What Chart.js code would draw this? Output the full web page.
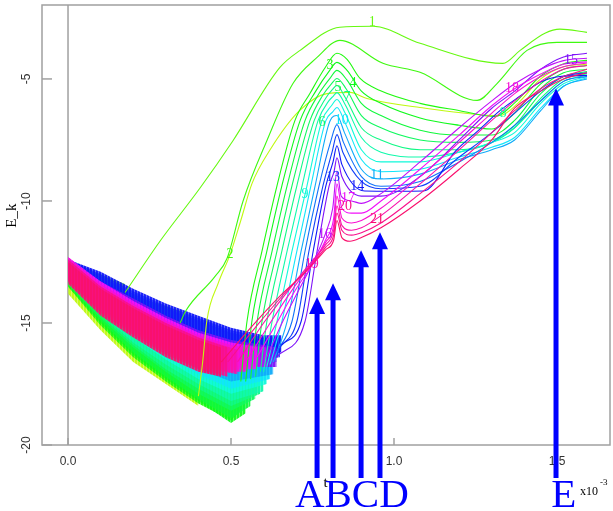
<!DOCTYPE html>
<html>
<head>
<meta charset="utf-8">
<script src="https://cdn.jsdelivr.net/npm/chart.js@4.4.0/dist/chart.umd.min.js"></script>
<style>
html, body { margin: 0; padding: 0; background: #fff; }
#chart { display: block; }
</style>
</head>
<body>
<canvas id="chart" width="613" height="511"></canvas>
<script>
// --- axis ticks ---
const tickT = [0, 0.5, 1.0, 1.5];
const tickTLabels = ['0.0', '0.5', '1.0', '1.5'];
const tickE = [-20, -15, -10, -5];
const tickELabels = ['-20', '-15', '-10', '-5'];

// --- noisy start of each run: [t, upper, lower] ---
const bandL  = [[0,-13.3,-13.8],[0.1,-14.8,-15.3],[0.2,-16.0,-16.6],[0.3,-16.9,-17.5],[0.4,-17.6,-18.4]];
const band1  = [[0,-12.6,-13.2],[0.1,-13.0,-13.8],[0.175,-13.4,-14.1]];
const band2  = [[0,-12.7,-13.3],[0.1,-13.3,-14.2],[0.2,-13.9,-14.9],[0.3,-14.3,-15.4],[0.344,-14.5,-15.6]];
const band3  = [[0,-12.9,-13.5],[0.1,-14.2,-15.1],[0.2,-15.2,-16.4],[0.3,-16.0,-17.4],[0.4,-16.6,-18.3],[0.5,-16.9,-19.0],[0.53,-16.6,-18.6]];
const band4  = [[0,-12.9,-13.5],[0.1,-14.1,-15.0],[0.2,-15.1,-16.3],[0.3,-15.9,-17.3],[0.4,-16.5,-18.2],[0.5,-16.8,-19.1],[0.545,-16.5,-18.7]];
const band5  = [[0,-12.8,-13.4],[0.1,-14.0,-14.9],[0.2,-15.0,-16.2],[0.3,-15.8,-17.2],[0.4,-16.4,-18.1],[0.5,-16.7,-18.9],[0.56,-16.4,-18.4]];
const band6  = [[0,-12.8,-13.4],[0.1,-13.9,-14.8],[0.2,-14.9,-16.0],[0.3,-15.7,-17.0],[0.4,-16.3,-17.9],[0.5,-16.6,-18.6],[0.575,-16.3,-18.1]];
const band7  = [[0,-12.8,-13.4],[0.1,-13.8,-14.7],[0.2,-14.8,-15.9],[0.3,-15.6,-16.9],[0.4,-16.2,-17.7],[0.5,-16.5,-18.4],[0.59,-16.2,-17.9]];
const band8  = [[0,-12.7,-13.3],[0.1,-13.7,-14.6],[0.2,-14.7,-15.8],[0.3,-15.5,-16.7],[0.4,-16.1,-17.5],[0.5,-16.4,-18.2],[0.6,-16.2,-17.8]];
const band9  = [[0,-12.7,-13.3],[0.1,-13.6,-14.5],[0.2,-14.5,-15.6],[0.3,-15.3,-16.5],[0.4,-15.9,-17.3],[0.5,-16.3,-17.9],[0.61,-16.1,-17.5]];
const band10 = [[0,-12.6,-13.2],[0.1,-13.5,-14.4],[0.2,-14.4,-15.5],[0.3,-15.2,-16.3],[0.4,-15.8,-17.1],[0.5,-16.2,-17.7],[0.62,-16.0,-17.3]];
const band11 = [[0,-12.6,-13.2],[0.1,-13.4,-14.3],[0.2,-14.3,-15.3],[0.3,-15.0,-16.1],[0.4,-15.6,-16.9],[0.5,-16.0,-17.4],[0.63,-16.0,-17.1]];
const band12 = [[0,-12.5,-13.1],[0.1,-13.1,-14.0],[0.2,-13.8,-14.8],[0.3,-14.4,-15.5],[0.4,-14.9,-16.1],[0.5,-15.4,-16.5],[0.6,-15.7,-16.7],[0.64,-15.7,-16.6]];
const band13 = [[0,-12.4,-13.0],[0.1,-13.0,-13.9],[0.2,-13.7,-14.6],[0.3,-14.3,-15.3],[0.4,-14.8,-15.9],[0.5,-15.3,-16.3],[0.6,-15.6,-16.5],[0.65,-15.6,-16.4]];
const band14 = [[0,-12.4,-13.0],[0.1,-12.9,-13.8],[0.2,-13.6,-14.5],[0.3,-14.2,-15.2],[0.4,-14.7,-15.8],[0.5,-15.2,-16.2],[0.6,-15.5,-16.4],[0.655,-15.5,-16.2]];
const band15 = [[0,-12.5,-13.1],[0.1,-13.3,-14.1],[0.2,-14.0,-14.9],[0.3,-14.7,-15.6],[0.4,-15.3,-16.2],[0.5,-15.7,-16.6],[0.6,-15.9,-16.8],[0.64,-16.0,-16.8]];
const band16 = [[0,-12.4,-13.1],[0.1,-13.3,-14.2],[0.2,-14.1,-15.1],[0.3,-14.8,-15.9],[0.4,-15.4,-16.5],[0.5,-15.8,-16.8],[0.61,-16.0,-16.8]];
const band17 = [[0,-12.3,-13.1],[0.1,-13.3,-14.3],[0.2,-14.1,-15.2],[0.3,-14.8,-16.0],[0.4,-15.4,-16.6],[0.5,-15.8,-16.9],[0.58,-16.0,-16.9]];
const band18 = [[0,-12.3,-13.2],[0.1,-13.4,-14.4],[0.2,-14.2,-15.3],[0.3,-14.9,-16.1],[0.4,-15.5,-16.7],[0.5,-15.9,-17.0],[0.55,-16.0,-17.0]];
const band19 = [[0,-12.4,-13.3],[0.1,-13.5,-14.5],[0.2,-14.3,-15.4],[0.3,-15.0,-16.2],[0.4,-15.6,-16.8],[0.52,-16.1,-17.1]];
const band20 = [[0,-12.4,-13.3],[0.1,-13.5,-14.6],[0.2,-14.3,-15.5],[0.3,-15.0,-16.3],[0.4,-15.6,-16.9],[0.49,-16.0,-17.2]];
const band21 = [[0,-12.5,-13.4],[0.1,-13.6,-14.7],[0.2,-14.4,-15.6],[0.3,-15.1,-16.4],[0.4,-15.7,-17.0],[0.47,-16.0,-17.2]];

// --- smooth part of each run: [t, E_k] ---
const lineL  = [[0.4,-18.0],[0.413,-16.6],[0.426,-14.9],[0.46,-13.4],[0.497,-12.2],[0.53,-10.8],[0.564,-9.3],[0.62,-7.9],[0.71,-6.3],[0.794,-5.6],[0.865,-5.55],[0.917,-5.8],[1.08,-6.17],[1.325,-6.5],[1.38,-6.0],[1.45,-5.0],[1.52,-4.5],[1.592,-4.4]];
const line1  = [[0.175,-13.75],[0.282,-11.65],[0.405,-9.47],[0.506,-7.53],[0.65,-4.53],[0.712,-3.83],[0.834,-2.88],[0.936,-2.84],[1.08,-3.54],[1.334,-4.36],[1.387,-3.83],[1.463,-3.13],[1.509,-2.96],[1.592,-3.09]];
const line2  = [[0.344,-15.0],[0.36,-14.53],[0.451,-13.09],[0.488,-12.35],[0.537,-10.0],[0.61,-7.53],[0.69,-5.19],[0.764,-4.12],[0.834,-3.42],[0.966,-4.36],[1.08,-4.73],[1.255,-5.88],[1.316,-5.19],[1.408,-3.83],[1.5,-3.5],[1.592,-3.5]];
const line3  = [[0.53,-17.4],[0.549,-14.94],[0.595,-12.06],[0.641,-9.38],[0.696,-6.71],[0.742,-5.6],[0.788,-4.55],[0.825,-3.95],[0.856,-4.2],[0.896,-4.98],[0.957,-5.47],[1.08,-6.0],[1.202,-6.3],[1.31,-6.54],[1.371,-5.97],[1.448,-4.9],[1.525,-4.36],[1.592,-4.24]];
const line4  = [[0.545,-17.4],[0.564,-14.94],[0.61,-12.06],[0.656,-9.38],[0.712,-6.71],[0.76,-5.5],[0.8,-4.7],[0.825,-4.32],[0.856,-4.65],[0.9,-5.5],[0.96,-6.0],[1.08,-6.6],[1.2,-6.9],[1.3,-7.05],[1.37,-6.4],[1.45,-5.2],[1.52,-4.6],[1.592,-4.45]];
const line5  = [[0.56,-17.3],[0.58,-14.94],[0.626,-12.06],[0.672,-9.38],[0.727,-6.71],[0.77,-5.6],[0.805,-4.95],[0.825,-4.65],[0.856,-5.05],[0.9,-6.0],[0.96,-6.5],[1.08,-7.1],[1.2,-7.3],[1.3,-7.3],[1.37,-6.7],[1.45,-5.4],[1.52,-4.75],[1.592,-4.6]];
const line6  = [[0.575,-17.2],[0.595,-14.94],[0.641,-12.06],[0.687,-9.38],[0.742,-6.71],[0.78,-5.7],[0.808,-5.2],[0.825,-4.98],[0.853,-5.4],[0.9,-6.5],[0.96,-7.0],[1.08,-7.5],[1.2,-7.6],[1.3,-7.5],[1.37,-6.9],[1.45,-5.6],[1.52,-4.9],[1.592,-4.7]];
const line7  = [[0.59,-17.0],[0.61,-14.94],[0.656,-12.06],[0.702,-9.38],[0.755,-6.71],[0.79,-5.8],[0.81,-5.45],[0.825,-5.27],[0.85,-5.75],[0.9,-7.0],[0.96,-7.5],[1.08,-7.9],[1.2,-7.9],[1.3,-7.6],[1.37,-7.0],[1.45,-5.8],[1.52,-5.0],[1.592,-4.8]];
const line8  = [[0.6,-17.0],[0.626,-14.94],[0.672,-12.06],[0.718,-9.38],[0.767,-6.71],[0.8,-5.9],[0.814,-5.7],[0.825,-5.56],[0.85,-6.05],[0.9,-7.4],[0.96,-8.0],[1.08,-8.2],[1.2,-8.0],[1.3,-7.6],[1.37,-7.0],[1.45,-5.9],[1.52,-5.1],[1.592,-4.85]];
const line9  = [[0.61,-16.8],[0.641,-14.94],[0.687,-12.06],[0.733,-9.38],[0.779,-6.71],[0.808,-6.1],[0.825,-5.84],[0.85,-6.4],[0.9,-7.9],[0.96,-8.4],[1.08,-8.4],[1.2,-8.0],[1.3,-7.6],[1.37,-7.2],[1.45,-6.0],[1.52,-5.2],[1.592,-4.9]];
const line10 = [[0.62,-16.7],[0.656,-14.94],[0.702,-12.06],[0.745,-9.38],[0.791,-6.71],[0.812,-6.35],[0.825,-6.17],[0.85,-6.8],[0.9,-8.3],[0.96,-8.8],[1.08,-8.7],[1.2,-8.2],[1.3,-7.8],[1.37,-7.4],[1.45,-6.2],[1.52,-5.3],[1.592,-4.95]];
const line11 = [[0.63,-16.6],[0.672,-14.94],[0.715,-12.06],[0.758,-9.38],[0.804,-6.71],[0.825,-6.5],[0.848,-7.2],[0.9,-8.7],[0.96,-9.1],[1.08,-8.9],[1.2,-8.3],[1.3,-7.9],[1.37,-7.5],[1.45,-6.3],[1.52,-5.3],[1.592,-5.0]];
const line12 = [[0.64,-16.2],[0.687,-14.94],[0.727,-12.06],[0.77,-9.38],[0.805,-7.6],[0.825,-6.87],[0.845,-7.6],[0.9,-9.0],[0.96,-9.4],[1.08,-9.2],[1.2,-8.4],[1.3,-7.6],[1.37,-6.9],[1.45,-5.9],[1.52,-5.1],[1.592,-4.9]];
const line13 = [[0.65,-16.0],[0.702,-14.94],[0.739,-12.06],[0.782,-9.38],[0.81,-8.0],[0.825,-7.28],[0.843,-8.0],[0.9,-9.2],[0.96,-9.5],[1.08,-9.4],[1.2,-8.2],[1.3,-7.2],[1.37,-6.4],[1.45,-5.5],[1.52,-4.9],[1.592,-4.75]];
const line14 = [[0.655,-15.9],[0.715,-14.94],[0.752,-12.06],[0.791,-9.38],[0.813,-8.4],[0.825,-7.74],[0.84,-8.5],[0.91,-9.59],[1.0,-9.6],[1.09,-9.59],[1.19,-7.94],[1.26,-7.1],[1.325,-6.3],[1.387,-5.7],[1.448,-5.14],[1.509,-4.9],[1.592,-4.86]];
const line15 = [[0.64,-16.4],[0.727,-14.94],[0.764,-12.06],[0.801,-9.38],[0.816,-8.8],[0.825,-8.23],[0.84,-9.0],[0.9,-9.8],[0.96,-9.8],[1.08,-9.0],[1.2,-7.5],[1.3,-6.2],[1.37,-5.5],[1.45,-4.6],[1.52,-4.1],[1.592,-3.95]];
const line16 = [[0.61,-16.4],[0.66,-14.9],[0.71,-13.6],[0.752,-12.5],[0.788,-11.4],[0.812,-10.3],[0.825,-8.77],[0.838,-9.8],[0.87,-10.0],[0.9,-10.1],[0.96,-9.7],[1.08,-8.4],[1.2,-7.0],[1.3,-5.9],[1.37,-5.2],[1.45,-4.6],[1.52,-4.25],[1.592,-4.15]];
const line17 = [[0.58,-16.4],[0.64,-15.0],[0.7,-13.6],[0.75,-12.6],[0.79,-11.6],[0.815,-10.7],[0.825,-9.3],[0.84,-10.3],[0.87,-10.5],[0.9,-10.5],[0.96,-10.0],[1.08,-8.7],[1.2,-7.3],[1.3,-6.1],[1.37,-5.4],[1.45,-4.8],[1.52,-4.4],[1.592,-4.3]];
const line18 = [[0.55,-16.5],[0.62,-15.0],[0.69,-13.6],[0.75,-12.5],[0.79,-11.7],[0.815,-11.0],[0.825,-9.8],[0.84,-10.7],[0.87,-10.9],[0.9,-10.8],[0.96,-10.3],[1.08,-9.0],[1.2,-7.6],[1.3,-6.4],[1.37,-5.6],[1.45,-4.9],[1.52,-4.5],[1.592,-4.35]];
const line19 = [[0.52,-16.6],[0.6,-15.0],[0.68,-13.6],[0.74,-12.6],[0.79,-11.8],[0.815,-11.2],[0.825,-10.2],[0.84,-11.0],[0.87,-11.2],[0.9,-11.1],[0.96,-10.6],[1.08,-9.3],[1.2,-7.9],[1.3,-6.7],[1.37,-5.9],[1.45,-5.1],[1.52,-4.6],[1.592,-4.45]];
const line20 = [[0.49,-16.6],[0.58,-15.1],[0.67,-13.7],[0.74,-12.7],[0.79,-11.9],[0.815,-11.4],[0.825,-10.5],[0.84,-11.2],[0.87,-11.4],[0.9,-11.3],[0.96,-10.9],[1.08,-9.7],[1.2,-8.4],[1.3,-7.2],[1.37,-6.3],[1.45,-5.4],[1.52,-4.9],[1.592,-4.6]];
const line21 = [[0.47,-16.6],[0.56,-15.2],[0.65,-13.9],[0.73,-12.9],[0.79,-12.0],[0.815,-11.6],[0.825,-10.8],[0.84,-11.5],[0.865,-11.65],[0.9,-11.5],[0.96,-11.1],[1.08,-10.0],[1.2,-8.7],[1.3,-7.5],[1.37,-6.2],[1.45,-5.5],[1.52,-5.0],[1.592,-4.75]];

// run labels: [t, E_k, text, run index]
const runLabels = [
  [0.933,-2.67,'1',1],[0.497,-12.18,'2',2],[0.804,-4.44,'3',3],[0.874,-5.18,'4',4],
  [0.828,-5.35,'5',5],[0.779,-6.79,'6',6],[0.856,-5.76,'7',7],[1.334,-6.42,'8',8],
  [0.727,-9.71,'9',9],[0.84,-6.71,'10',10],[0.948,-8.97,'11',11],[0.813,-9.05,'13',13],
  [0.887,-9.38,'14',14],[1.543,-4.24,'15',15],[0.788,-11.36,'16',16],[0.859,-9.88,'17',17],
  [1.362,-5.39,'18',18],[0.748,-12.6,'19',19],[0.85,-10.2,'20',20],[0.948,-10.74,'21',21]
];

// marker arrows A-E: t position, tip E_k
const arrowT = [0.764, 0.813, 0.899, 0.957, 1.497];
const arrowTip = [-13.94, -13.37, -12.02, -11.28, -5.39];
const arrowBase = -21.35;

const bands = [bandL, band1, band2, band3, band4, band5, band6, band7, band8, band9, band10,
  band11, band12, band13, band14, band15, band16, band17, band18, band19, band20, band21];
const lines = [lineL, line1, line2, line3, line4, line5, line6, line7, line8, line9, line10,
  line11, line12, line13, line14, line15, line16, line17, line18, line19, line20, line21];
const hues = [75, 98, 108, 116, 123, 131, 140, 150, 160, 172, 185, 200, 215, 228, 238, 268, 285, 298, 310, 320, 328, 336];

const col = (i, a) => `hsla(${hues[i]}, 95%, 52%, ${a})`;
const pts = arr => arr.map(p => ({x: p[0], y: p[1]}));

// striped fill so the oscillating start reads as a dense bundle of strokes
function stripes(i) {
  const c = document.createElement('canvas');
  c.width = 3; c.height = 1;
  const g = c.getContext('2d');
  g.fillStyle = col(i, 0.95); g.fillRect(0, 0, 2, 1);
  g.fillStyle = col(i, 0.65); g.fillRect(2, 0, 1, 1);
  return g.createPattern(c, 'repeat');
}

const datasets = [];
const n = lines.length;
bands.forEach((b, i) => {
  datasets.push({
    data: b.map(p => ({x: p[0], y: p[1]})),
    fill: '+1', backgroundColor: stripes(i), borderWidth: 0,
    pointRadius: 0, order: 100 + n - i
  });
  datasets.push({
    data: b.map(p => ({x: p[0], y: p[2]})),
    fill: false, borderWidth: 0, pointRadius: 0, order: 100 + n - i
  });
});
lines.forEach((l, i) => {
  datasets.push({
    data: pts(l), fill: false, borderColor: col(i, 1), borderWidth: 1.1,
    pointRadius: 0, tension: 0.4, cubicInterpolationMode: 'monotone', order: n - i
  });
});

// frame, inner axis line, ticks and tick labels
const framePlugin = {
  id: 'frame',
  beforeDatasetsDraw(chart) {
    const {ctx, chartArea: a, scales: {x, y}} = chart;
    ctx.save();
    ctx.strokeStyle = '#a0a0a0';
    ctx.lineWidth = 1.5;
    ctx.strokeRect(a.left, a.top, a.right - a.left, a.bottom - a.top);
    const x0 = x.getPixelForValue(0);
    ctx.beginPath();
    ctx.moveTo(x0, a.top); ctx.lineTo(x0, a.bottom);
    ctx.stroke();
    ctx.fillStyle = '#333';
    ctx.font = '12px "Liberation Sans"';
    tickE.forEach((v, k) => {
      const py = y.getPixelForValue(v);
      ctx.beginPath(); ctx.moveTo(a.left, py); ctx.lineTo(a.left + 10, py); ctx.stroke();
      ctx.save();
      ctx.translate(a.left - 9, py);
      ctx.rotate(-Math.PI / 2);
      ctx.textAlign = 'center'; ctx.textBaseline = 'bottom';
      ctx.fillText(tickELabels[k], 0, 0);
      ctx.restore();
    });
    tickT.forEach((v, k) => {
      const px = x.getPixelForValue(v);
      ctx.beginPath(); ctx.moveTo(px, a.bottom); ctx.lineTo(px, a.bottom - 7); ctx.stroke();
      ctx.textAlign = 'center'; ctx.textBaseline = 'top';
      ctx.fillText(tickTLabels[k], px, a.bottom + 11);
    });
    // axis titles
    ctx.fillStyle = '#000';
    ctx.font = '15px "Liberation Serif"';
    ctx.save();
    ctx.translate(12, y.getPixelForValue(-10.6));
    ctx.rotate(-Math.PI / 2);
    ctx.textAlign = 'center'; ctx.textBaseline = 'middle';
    ctx.fillText('E_k', 0, 0);
    ctx.restore();
    ctx.textAlign = 'center'; ctx.textBaseline = 'top';
    ctx.fillText('t', x.getPixelForValue(0.79), a.bottom + 31);
    ctx.font = '12px "Liberation Serif"';
    ctx.textAlign = 'left'; ctx.textBaseline = 'alphabetic';
    ctx.fillText('x10', a.right - 30, a.bottom + 50);
    ctx.font = '9px "Liberation Serif"';
    ctx.fillText('-3', a.right - 10, a.bottom + 40);
    ctx.restore();
  }
};

// run numbers and the A-E arrows
const notesPlugin = {
  id: 'notes',
  afterDatasetsDraw(chart) {
    const {ctx, scales: {x, y}} = chart;
    ctx.save();
    ctx.font = '14px "Liberation Serif"';
    ctx.textAlign = 'center'; ctx.textBaseline = 'middle';
    runLabels.forEach(([t, e, s, i]) => {
      ctx.fillStyle = col(i, 1);
      ctx.fillText(s, x.getPixelForValue(t), y.getPixelForValue(e));
    });
    ctx.fillStyle = '#0000ff';
    ctx.strokeStyle = '#0000ff';
    arrowT.forEach((t, k) => {
      const px = x.getPixelForValue(t);
      const tip = y.getPixelForValue(arrowTip[k]);
      const base = y.getPixelForValue(arrowBase);
      ctx.lineWidth = 5;
      ctx.beginPath(); ctx.moveTo(px, base); ctx.lineTo(px, tip + 14); ctx.stroke();
      ctx.beginPath();
      ctx.moveTo(px, tip); ctx.lineTo(px - 8, tip + 17); ctx.lineTo(px + 8, tip + 17);
      ctx.closePath(); ctx.fill();
    });
    ctx.font = '41px "Liberation Serif"';
    ctx.textAlign = 'left'; ctx.textBaseline = 'alphabetic';
    const baseY = y.getPixelForValue(-22.54);
    ctx.fillText('ABCD', x.getPixelForValue(0.696), baseY);
    ctx.fillText('E', x.getPixelForValue(1.482), baseY);
    ctx.restore();
  }
};

new Chart(document.getElementById('chart').getContext('2d'), {
  type: 'line',
  data: { datasets },
  options: {
    responsive: false,
    animation: false,
    devicePixelRatio: 1,
    layout: { padding: { left: 42, top: 5, right: 3, bottom: 66 } },
    scales: {
      x: { type: 'linear', min: -0.0798, max: 1.6626, display: false },
      y: { type: 'linear', min: -20, max: -1.97, display: false }
    },
    plugins: { legend: { display: false }, tooltip: { enabled: false } }
  },
  plugins: [framePlugin, notesPlugin]
});
</script>
</body>
</html>
